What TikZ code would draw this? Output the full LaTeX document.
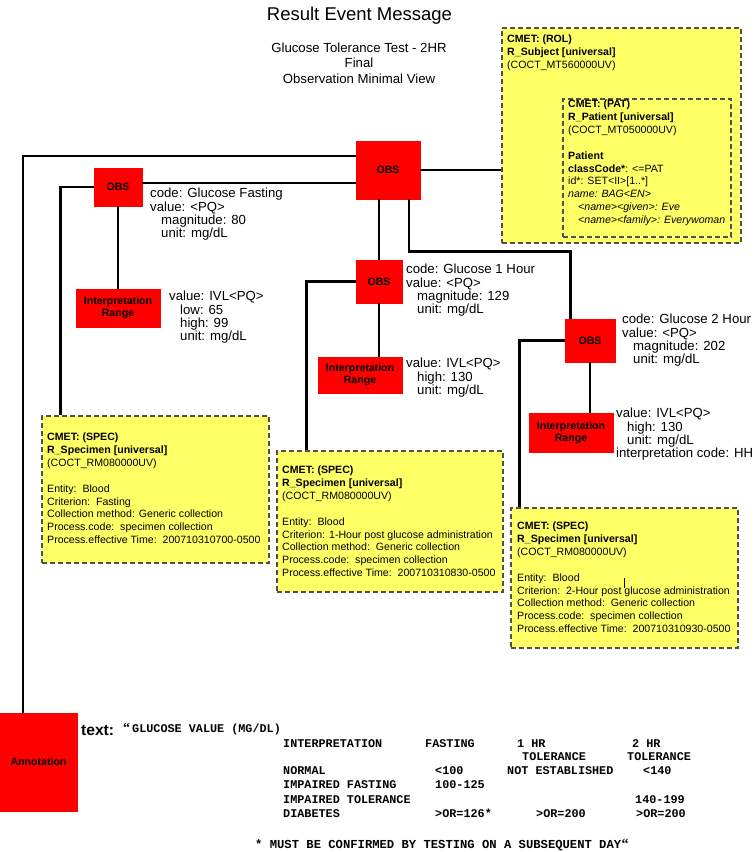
\documentclass[tikz,border=0pt]{standalone}
\usepackage{fontspec}
\setmainfont{Liberation Sans}
\newfontfamily\courfont{Liberation Mono}
\newfontfamily\quotefont{Liberation Serif}
\usetikzlibrary{calc}

\definecolor{obsred}{RGB}{255,0,0}
\definecolor{cmetyellow}{RGB}{255,255,102}
\definecolor{cmetborder}{RGB}{80,80,80}

\tikzset{
	act/.style={fill=obsred, draw=obsred, inner sep=0pt, align=center, font=\fontsize{10.6}{12.3}\selectfont\bfseries},
	cmet/.style={fill=cmetyellow, draw=cmetborder, line width=1.2pt, dash pattern=on 5pt off 3pt, inner sep=0pt},
	attr/.style={anchor=north west, inner sep=0pt, align=left, font=\fontsize{13.2}{13.3}\selectfont},
	cmettxt/.style={anchor=north west, inner sep=0pt, align=left, font=\fontsize{10.6}{12.85}\selectfont},
	mono/.style={anchor=base west, inner sep=0pt, font=\fontsize{11.8}{12}\selectfont\courfont\bfseries},
	bigquote/.style={anchor=base west, inner sep=0pt, font=\fontsize{14}{14}\selectfont\quotefont\bfseries},
	link/.style={line width=2.8pt}
}

\begin{document}
\begin{tikzpicture}[x=1pt, y=-1pt]
		\useasboundingbox (0,0) rectangle (753,852);
		%%%%% TITLE %%%%%
		\node[anchor=base, inner sep=0pt, font=\fontsize{18.5}{20}\selectfont] (title) at (359.5,20) {Result Event Message};
		\node[anchor=north, inner sep=0pt, align=center, font=\fontsize{13.2}{15.5}\selectfont] (subtitle) at (359,42.5) {Glucose Tolerance Test - 2HR\\Final\\Observation Minimal View};
		
		%%%%% CMET BOXES %%%%%
		\node[cmet, minimum width=239pt, minimum height=215pt] (rol) at (621.5,135.5) {};
		\node[cmet, minimum width=168pt, minimum height=138pt] (pat) at (647,168) {};
		\node[cmet, minimum width=227pt, minimum height=147pt] (spec1) at (155.5,489.5) {};
		\node[cmet, minimum width=226pt, minimum height=141pt] (spec2) at (390,521.5) {};
		\node[cmet, minimum width=227pt, minimum height=140pt] (spec3) at (624.5,578) {};
		
		%%%%% ACTS %%%%%
		\node[act, minimum width=64pt, minimum height=58pt] (obs) at (388,170) {OBS};
		\node[act, minimum width=48pt, minimum height=38pt] (obs1) at (118,187) {OBS};
		\node[act, minimum width=84pt, minimum height=38pt] (ir1) at (118,308) {Interpretation\\Range};
		\node[act, minimum width=46pt, minimum height=43pt] (obs2) at (379,281.5) {OBS};
		\node[act, minimum width=84pt, minimum height=36pt] (ir2) at (360,375) {Interpretation\\Range};
		\node[act, minimum width=50pt, minimum height=43pt] (obs3) at (590,340.5) {OBS};
		\node[act, minimum width=84pt, minimum height=39pt] (ir3) at (571,432.5) {Interpretation\\Range};
		\node[act, minimum width=77pt, minimum height=98pt] (ann) at (38.5,762) {Annotation};
		
		%%%%% LINKS %%%%%
		\coordinate (obsl1) at ([yshift=14pt]obs.west);
		\coordinate (obsl2) at ([yshift=-13pt]obs.west);
		\coordinate (obsd) at ([xshift=21pt]obs.south);
		\draw[link] (obsl1) -| ([xshift=-15.5pt]ann.north);
		\draw[link] (obsl2) -- (obsl2 -| obs1.east);
		\draw[link] (obs.east) -- (obs.east -| rol.west);
		\draw[link] (obs.south -| obs2.north) -- (obs2.north);
		\draw[link] (obsd) -- ++(0,52) -| ([xshift=6pt]obs3.north west);
		\draw[link] (obs1.west) -| ([xshift=19pt]spec1.north west);
		\draw[link] (obs1.south) -- (ir1.north);
		\draw[link] (obs2.west) -| ([xshift=30pt]spec2.north west);
		\draw[link] (obs2.south) -- (obs2.south |- ir2.north);
		\draw[link] (obs3.west) -| ([xshift=9pt]spec3.north west);
		\draw[link] (obs3.south) -- (obs3.south |- ir3.north);
		
		%%%%% ATTRIBUTES %%%%%
		\node[attr] (obs1txt) at (150,188) {code: Glucose Fasting\\value: <PQ>\\\hspace*{11pt}magnitude: 80\\\hspace*{11pt}unit: mg/dL};
		\node[attr] (ir1txt) at (169,291) {value: IVL<PQ>\\\hspace*{11pt}low: 65\\\hspace*{11pt}high: 99\\\hspace*{11pt}unit: mg/dL};
		\node[attr] (obs2txt) at (406,264) {code: Glucose 1 Hour\\value: <PQ>\\\hspace*{11pt}magnitude: 129\\\hspace*{11pt}unit: mg/dL};
		\node[attr] (ir2txt) at (406,358) {value: IVL<PQ>\\\hspace*{11pt}high: 130\\\hspace*{11pt}unit: mg/dL};
		\node[attr] (obs3txt) at (622,314) {code: Glucose 2 Hour\\value: <PQ>\\\hspace*{11pt}magnitude: 202\\\hspace*{11pt}unit: mg/dL};
		\node[attr] (ir3txt) at (616,408) {value: IVL<PQ>\\\hspace*{11pt}high: 130\\\hspace*{11pt}unit: mg/dL\\interpretation code: HH};
		
		%%%%% CMET TEXT %%%%%
		\node[cmettxt] (roltxt) at (507,35) {\textbf{CMET: (ROL)}\\\textbf{R\_Subject [universal]}\\(COCT\_MT560000UV)};
		\node[cmettxt] (pattxt) at (568,100) {\textbf{CMET: (PAT)}\\\textbf{R\_Patient [universal]}\\(COCT\_MT050000UV)\\[12.85pt]\textbf{Patient}\\\textbf{classCode*}: <=PAT\\id*: SET<II>[1..*]\\\textit{name: BAG<EN>}\\\hspace*{10pt}\textit{<name><given>: Eve}\\\hspace*{10pt}\textit{<name><family>: Everywoman}};
		\node[cmettxt] (spec1txt) at (47,433) {\textbf{CMET: (SPEC)}\\\textbf{R\_Specimen [universal]}\\(COCT\_RM080000UV)\\[12.85pt]Entity:\ \ Blood\\Criterion:\ \ Fasting\\Collection method: Generic collection\\Process.code:\ \ specimen collection\\Process.effective Time:\ \ 200710310700-0500};
		\node[cmettxt] (spec2txt) at (282,466) {\textbf{CMET: (SPEC)}\\\textbf{R\_Specimen [universal]}\\(COCT\_RM080000UV)\\[12.85pt]Entity:\ \ Blood\\Criterion: 1-Hour post glucose administration\\Collection method:\ \ Generic collection\\Process.code:\ \ specimen collection\\Process.effective Time:\ \ 200710310830-0500};
		\node[cmettxt] (spec3txt) at (517,522) {\textbf{CMET: (SPEC)}\\\textbf{R\_Specimen [universal]}\\(COCT\_RM080000UV)\\[12.85pt]Entity:\ \ Blood\\Criterion:\ \ 2-Hour post glucose administration\\Collection method:\ \ Generic collection\\Process.code:\ \ specimen collection\\Process.effective Time:\ \ 200710310930-0500};
		\draw[line width=0.8pt] (624,578) -- (624,588);
		
		%%%%% ANNOTATION TEXT %%%%%
		\node[anchor=base west, inner sep=0pt, font=\fontsize{15.6}{16}\selectfont\bfseries] (textlbl) at (81,735) {text:};
		\node[bigquote] (qopen) at (123,732.5) {“};
		\node[mono] (anntitle) at (132,732.5) {GLUCOSE VALUE (MG/DL)};
		\node[mono] (hinterp) at (283,747.5) {INTERPRETATION};
		\node[mono] (hfast) at (425,747.5) {FASTING};
		\node[mono] (hone) at (517,747.5) {1 HR};
		\node[mono] (htwo) at (632,747.5) {2 HR};
		\node[mono] (honetol) at (522,760.5) {TOLERANCE};
		\node[mono] (htwotol) at (627,760.5) {TOLERANCE};
		\node[mono] (rnormal) at (283,774.5) {NORMAL};
		\node[mono] (rnormalf) at (435,774.5) {<100};
		\node[mono] (rnormalo) at (507,774.5) {NOT ESTABLISHED};
		\node[mono] (rnormalt) at (643,774.5) {<140};
		\node[mono] (rimpf) at (283,788.5) {IMPAIRED FASTING};
		\node[mono] (rimpff) at (435,788.5) {100-125};
		\node[mono] (rimpt) at (283,803) {IMPAIRED TOLERANCE};
		\node[mono] (rimptt) at (635,803) {140-199};
		\node[mono] (rdiab) at (283,817.5) {DIABETES};
		\node[mono] (rdiabf) at (435,817.5) {>OR=126*};
		\node[mono] (rdiabo) at (536,817.5) {>OR=200};
		\node[mono] (rdiabt) at (636,817.5) {>OR=200};
		\node[mono, font=\fontsize{12.2}{12}\selectfont\courfont\bfseries] (footnote) at (255,848.5) {* MUST BE CONFIRMED BY TESTING ON A SUBSEQUENT DAY};
		\node[bigquote] (qclose) at (footnote.base east) {“};
	\end{tikzpicture}
\end{document}
